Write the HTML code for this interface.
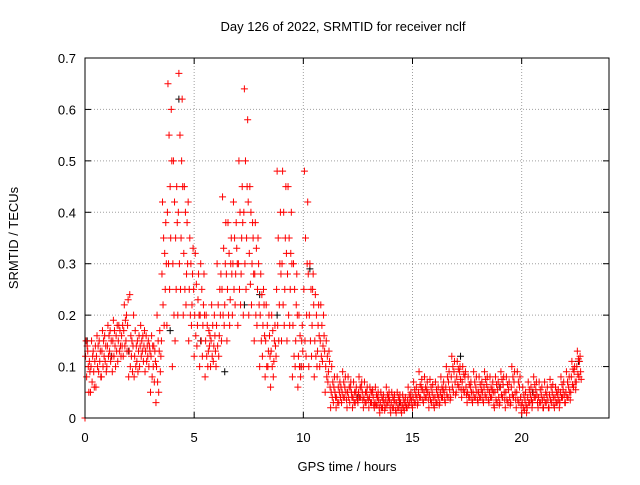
<!DOCTYPE html>
<html><head><meta charset="utf-8"><style>
html,body{margin:0;padding:0;background:#fff;}
svg text{font-family:"Liberation Sans",sans-serif;font-size:13px;fill:#000;}
</style></head><body>
<svg id="chart" width="640" height="480">
<text x="343" y="31" text-anchor="middle">Day 126 of 2022, SRMTID for receiver nclf</text>
<text x="347" y="471" text-anchor="middle">GPS time / hours</text>
<text transform="translate(18,238) rotate(-90)" text-anchor="middle">SRMTID / TECUs</text>
<g id="grid"></g>
<g id="ticks"></g>
<g id="black"></g>
<g id="red"></g>
<rect x="85" y="58" width="524" height="360" fill="none" stroke="#000" stroke-width="1"/>
</svg>
<script>
const binStart = [0,0.25,0.5,0.75,1,1.25,1.5,1.75,2,2.25,2.5,2.75,3,3.25,3.5,3.75,4,4.25,4.5,4.75,5,5.25,5.5,5.75,6,6.25,6.5,6.75,7,7.25,7.5,7.75,8,8.25,8.5,8.75,9,9.25,9.5,9.75,10,10.25,10.5,10.75,11,11.25,11.5,11.75,12,12.25,12.5,12.75,13,13.25,13.5,13.75,14,14.25,14.5,14.75,15,15.25,15.5,15.75,16,16.25,16.5,16.75,17,17.25,17.5,17.75,18,18.25,18.5,18.75,19,19.25,19.5,19.75,20,20.25,20.5,20.75,21,21.25,21.5,21.75,22,22.25,22.5];
const redValues = [
[0.0,0.12,0.15,0.08,0.14],[0.05,0.1,0.15,0.07,0.12],[0.06,0.12,0.16,0.1,0.14],[0.08,0.13,0.17,0.1,0.15],
[0.1,0.14,0.18,0.12,0.16],[0.09,0.15,0.19,0.12,0.17],[0.11,0.15,0.18,0.13,0.17],[0.12,0.17,0.22,0.14,0.19],
[0.08,0.13,0.24,0.1,0.16],[0.08,0.12,0.17,0.1,0.14],[0.1,0.14,0.18,0.12,0.15],[0.09,0.13,0.16,0.11,0.14],
[0.05,0.12,0.16,0.08,0.14],[0.03,0.1,0.2,0.07,0.15],[0.15,0.28,0.42,0.22,0.35],[0.18,0.4,0.65,0.3,0.55],
[0.1,0.3,0.5,0.2,0.42],[0.2,0.4,0.67,0.3,0.55],[0.2,0.32,0.45,0.25,0.4],[0.15,0.25,0.35,0.2,0.3],
[0.12,0.2,0.32,0.16,0.26],[0.1,0.2,0.3,0.15,0.25],[0.08,0.15,0.2,0.12,0.18],[0.1,0.15,0.22,0.12,0.18],
[0.1,0.18,0.3,0.14,0.22],[0.15,0.25,0.43,0.2,0.33],[0.15,0.25,0.38,0.2,0.32],[0.2,0.3,0.42,0.25,0.35],
[0.18,0.3,0.5,0.25,0.4],[0.2,0.4,0.64,0.3,0.5],[0.2,0.32,0.45,0.26,0.4],[0.15,0.28,0.38,0.2,0.33],
[0.1,0.2,0.28,0.15,0.24],[0.08,0.15,0.22,0.1,0.18],[0.06,0.13,0.2,0.1,0.17],[0.12,0.25,0.48,0.18,0.35],
[0.15,0.3,0.48,0.22,0.4],[0.15,0.28,0.45,0.2,0.35],[0.08,0.18,0.3,0.12,0.25],[0.06,0.12,0.2,0.1,0.16],
[0.1,0.25,0.48,0.15,0.35],[0.1,0.2,0.3,0.15,0.25],[0.08,0.15,0.24,0.12,0.2],[0.1,0.15,0.22,0.12,0.18],
[0.05,0.1,0.15,0.08,0.12],[0.02,0.05,0.1,0.04,0.07],[0.02,0.04,0.08,0.03,0.06],[0.03,0.05,0.09,0.04,0.07],
[0.02,0.05,0.08,0.04,0.06],[0.02,0.04,0.07,0.03,0.05],[0.03,0.05,0.08,0.04,0.06],[0.02,0.04,0.07,0.03,0.05],
[0.02,0.04,0.06,0.03,0.05],[0.02,0.03,0.06,0.025,0.045],[0.01,0.03,0.05,0.02,0.04],[0.02,0.035,0.06,0.025,0.045],
[0.01,0.03,0.05,0.02,0.04],[0.01,0.03,0.05,0.02,0.04],[0.01,0.025,0.045,0.02,0.035],[0.02,0.035,0.06,0.025,0.045],
[0.02,0.04,0.07,0.03,0.055],[0.03,0.05,0.09,0.04,0.065],[0.03,0.05,0.08,0.04,0.06],[0.02,0.045,0.075,0.035,0.06],
[0.02,0.04,0.07,0.03,0.055],[0.03,0.05,0.08,0.04,0.06],[0.03,0.06,0.1,0.045,0.08],[0.04,0.08,0.12,0.06,0.1],
[0.05,0.08,0.11,0.065,0.095],[0.04,0.07,0.1,0.055,0.085],[0.03,0.05,0.08,0.04,0.065],[0.03,0.05,0.09,0.04,0.07],
[0.03,0.05,0.08,0.04,0.065],[0.03,0.06,0.09,0.045,0.075],[0.03,0.05,0.08,0.04,0.06],[0.02,0.05,0.08,0.035,0.065],
[0.03,0.06,0.09,0.045,0.075],[0.02,0.05,0.08,0.035,0.065],[0.03,0.06,0.1,0.045,0.08],[0.02,0.05,0.09,0.035,0.07],
[0.01,0.03,0.06,0.02,0.045],[0.02,0.04,0.07,0.03,0.055],[0.03,0.05,0.08,0.04,0.065],[0.02,0.04,0.07,0.03,0.055],
[0.02,0.04,0.07,0.03,0.05],[0.02,0.045,0.075,0.035,0.06],[0.02,0.04,0.06,0.03,0.05],[0.03,0.05,0.08,0.04,0.065],
[0.03,0.05,0.09,0.04,0.07],[0.05,0.08,0.11,0.065,0.095],[0.07,0.1,0.13,0.085,0.115]
];
const redValues2 = [
[0.13,0.1,0.05,0.11,0.09],[0.13,0.09,0.06,0.11,0.14],[0.09,0.15,0.11,0.13,0.08],[0.12,0.16,0.11,0.14,0.09],
[0.13,0.17,0.11,0.15,0.12],[0.14,0.1,0.16,0.13,0.18],[0.14,0.12,0.16,0.14,0.18],[0.15,0.2,0.13,0.18,0.23],
[0.12,0.15,0.09,0.14,0.2],[0.11,0.15,0.09,0.13,0.16],[0.13,0.16,0.11,0.14,0.17],[0.12,0.15,0.1,0.14,0.13],
[0.1,0.14,0.07,0.13,0.11],[0.05,0.13,0.17,0.09,0.12],[0.18,0.32,0.25,0.38,0.3],[0.25,0.45,0.35,0.6,0.5],
[0.15,0.35,0.25,0.45,0.38],[0.25,0.35,0.5,0.62,0.45],[0.22,0.28,0.38,0.3,0.42],[0.18,0.22,0.28,0.33,0.25],
[0.14,0.18,0.23,0.28,0.2],[0.12,0.18,0.22,0.28,0.2],[0.1,0.13,0.17,0.14,0.16],[0.11,0.14,0.2,0.16,0.13],
[0.12,0.16,0.25,0.2,0.28],[0.18,0.22,0.3,0.38,0.28],[0.18,0.23,0.3,0.35,0.28],[0.22,0.28,0.38,0.33,0.3],
[0.22,0.28,0.35,0.45,0.38],[0.25,0.35,0.45,0.58,0.42],[0.22,0.3,0.38,0.35,0.28],[0.18,0.25,0.35,0.3,0.22],
[0.12,0.18,0.25,0.22,0.16],[0.1,0.13,0.2,0.16,0.12],[0.08,0.11,0.15,0.18,0.14],[0.15,0.22,0.3,0.4,0.28],
[0.18,0.25,0.35,0.45,0.32],[0.18,0.25,0.32,0.4,0.3],[0.1,0.15,0.22,0.28,0.2],[0.08,0.1,0.15,0.18,0.13],
[0.12,0.2,0.3,0.42,0.28],[0.12,0.18,0.25,0.28,0.22],[0.1,0.13,0.18,0.22,0.16],[0.11,0.14,0.2,0.16,0.13],
[0.07,0.09,0.13,0.11,0.06],[0.03,0.06,0.08,0.05,0.04],[0.03,0.05,0.07,0.04,0.06],[0.04,0.06,0.08,0.05,0.035],
[0.03,0.06,0.07,0.05,0.04],[0.03,0.05,0.06,0.04,0.035],[0.04,0.06,0.07,0.05,0.035],[0.03,0.05,0.06,0.04,0.035],
[0.03,0.05,0.055,0.04,0.025],[0.025,0.04,0.05,0.035,0.02],[0.02,0.035,0.045,0.03,0.015],[0.03,0.04,0.05,0.035,0.02],
[0.02,0.035,0.045,0.03,0.015],[0.02,0.035,0.045,0.03,0.015],[0.015,0.03,0.04,0.025,0.02],[0.03,0.04,0.05,0.035,0.025],
[0.03,0.045,0.06,0.04,0.025],[0.04,0.06,0.075,0.055,0.035],[0.04,0.055,0.07,0.05,0.035],[0.03,0.05,0.065,0.04,0.025],
[0.03,0.045,0.06,0.04,0.025],[0.04,0.055,0.07,0.05,0.035],[0.04,0.07,0.09,0.055,0.035],[0.05,0.09,0.11,0.07,0.045],
[0.06,0.09,0.1,0.075,0.055],[0.05,0.08,0.09,0.06,0.045],[0.04,0.06,0.07,0.05,0.035],[0.04,0.06,0.08,0.05,0.035],
[0.04,0.055,0.07,0.05,0.035],[0.04,0.065,0.08,0.055,0.035],[0.04,0.055,0.07,0.05,0.025],[0.03,0.055,0.07,0.04,0.025],
[0.04,0.065,0.08,0.05,0.035],[0.03,0.055,0.07,0.04,0.025],[0.04,0.07,0.09,0.05,0.035],[0.03,0.06,0.08,0.04,0.025],
[0.015,0.035,0.05,0.025,0.01],[0.03,0.045,0.06,0.035,0.02],[0.04,0.055,0.07,0.045,0.03],[0.03,0.045,0.06,0.035,0.02],
[0.03,0.045,0.06,0.035,0.02],[0.03,0.05,0.065,0.04,0.025],[0.03,0.045,0.055,0.035,0.02],[0.04,0.055,0.07,0.045,0.03],
[0.04,0.06,0.08,0.05,0.035],[0.06,0.09,0.1,0.07,0.055],[0.08,0.11,0.12,0.09,0.075]
];
const blackTimes = [0.1,2.0,3.9,4.3,6.4,7.3,8.0,9.9,10.3,14.4,17.2,19.0,22.6,1.2,5.3,8.8,12.5,20.5];
const blackValues = [0.15,0.13,0.17,0.62,0.09,0.22,0.24,0.1,0.29,0.03,0.12,0.06,0.11,0.12,0.15,0.2,0.04,0.05];
const xTicks = [0,5,10,15,20];
const yTicks = [0,0.1,0.2,0.3,0.4,0.5,0.6,0.7];
const yTickLabels = ["0","0.1","0.2","0.3","0.4","0.5","0.6","0.7"];

const NS="http://www.w3.org/2000/svg";
const X0=85,X1=609,Y0=418,Y1=58,XMAX=24,YMAX=0.7;
function xs(v){return X0+(X1-X0)*v/XMAX;}
function ys(v){return Y0-(Y0-Y1)*v/YMAX;}
function mk(tag,attrs,parent){const e=document.createElementNS(NS,tag);for(const k in attrs)e.setAttribute(k,attrs[k]);parent.appendChild(e);return e;}
const grid=document.getElementById('grid'),ticks=document.getElementById('ticks');
yTicks.forEach((t,i)=>{
  const y=ys(t);
  if(i>0&&i<yTicks.length-1){const g=mk('line',{x1:X0,x2:X1,y1:y,y2:y,stroke:'#a0a0a0','stroke-dasharray':'1,2'},grid);
  
  }
  mk('line',{x1:X0,x2:X0+6,y1:y,y2:y,stroke:'#000'},ticks);
  mk('line',{x1:X1,x2:X1-6,y1:y,y2:y,stroke:'#000'},ticks);
  const tx=mk('text',{x:X0-9,y:y+5,'text-anchor':'end'},ticks);tx.textContent=yTickLabels[i];
  
  
});
xTicks.forEach((t,i)=>{
  const x=xs(t);
  if(i>0){const g=mk('line',{x1:x,x2:x,y1:Y0,y2:Y1,stroke:'#a0a0a0','stroke-dasharray':'1,2'},grid);
  
  }
  mk('line',{x1:x,x2:x,y1:Y0,y2:Y0-6,stroke:'#000'},ticks);
  mk('line',{x1:x,x2:x,y1:Y1,y2:Y1+6,stroke:'#000'},ticks);
  const tx=mk('text',{x:x,y:Y0+24,'text-anchor':'middle'},ticks);tx.textContent=String(t);
  
  
});
function plus(g,t,v,color){
  const x=xs(t),y=ys(v);
  const p=mk('path',{d:`M${x-3.5},${y}h7M${x},${y-3.5}v7`,stroke:color,'stroke-width':1,fill:'none'},g);
  
  
}
const black=document.getElementById('black');
blackTimes.forEach((t,i)=>plus(black,t,blackValues[i],'#000'));
const red=document.getElementById('red');
binStart.forEach((t,i)=>{
  redValues[i].forEach((v,j)=>plus(red,t+0.25*j/10,v,'#ff0000'));
  redValues2[i].forEach((v,j)=>plus(red,t+0.25*(j+5)/10,v,'#ff0000'));
});
</script>
</body></html>
